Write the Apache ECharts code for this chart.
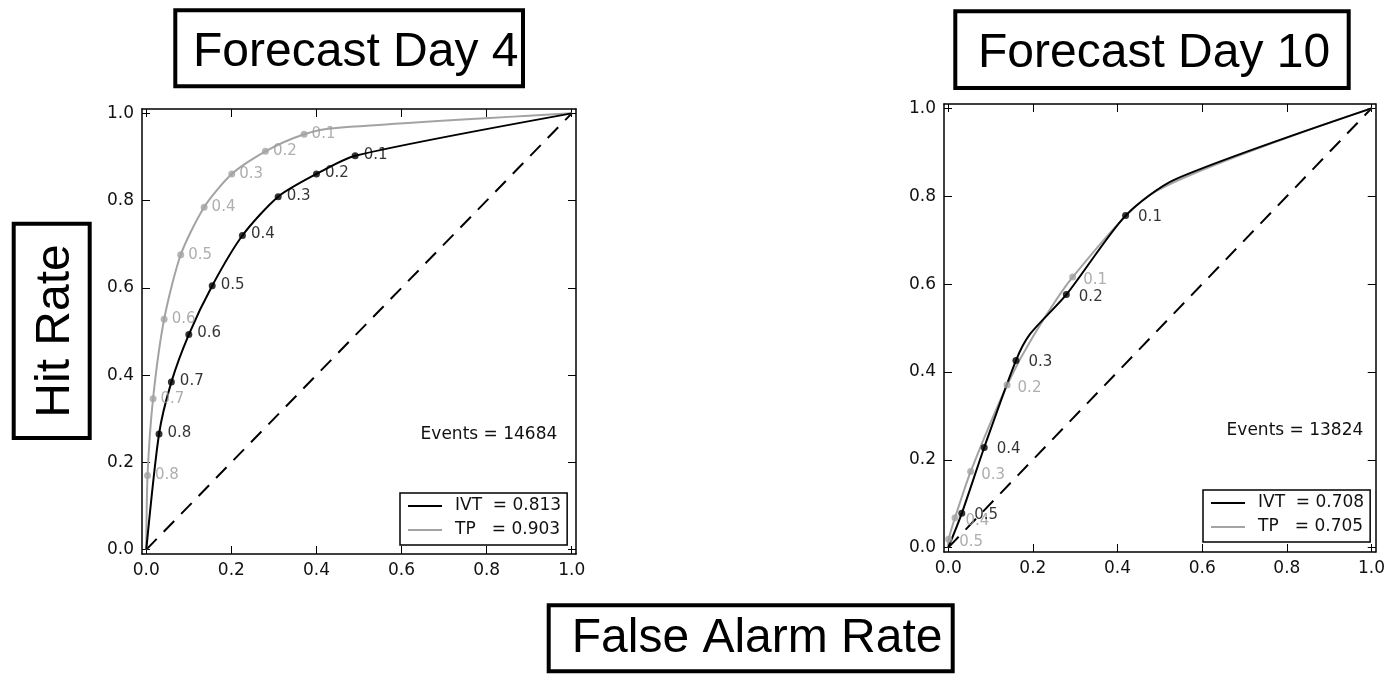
<!DOCTYPE html>
<html><head><meta charset="utf-8">
<script src="https://cdn.jsdelivr.net/npm/echarts@6/dist/echarts.min.js"></script>
<style>html,body{margin:0;padding:0;background:#fff}#c{width:1388px;height:680px}</style>
</head><body><div id="c"></div>
<script>
// ---------- data ----------
const axisTicks = [0, 0.2, 0.4, 0.6, 0.8, 1.0];

// Forecast Day 4 (thresholds 0.1 .. 0.8)
const d4Thresholds = ['0.1','0.2','0.3','0.4','0.5','0.6','0.7','0.8'];
const d4IvtFar = [0.491, 0.400, 0.310, 0.226, 0.155, 0.100, 0.059, 0.030];
const d4IvtHit = [0.903, 0.861, 0.809, 0.720, 0.605, 0.493, 0.384, 0.265];
const d4TpFar  = [0.371, 0.280, 0.201, 0.136, 0.081, 0.042, 0.016, 0.003];
const d4TpHit  = [0.952, 0.913, 0.861, 0.785, 0.676, 0.528, 0.346, 0.170];
// unlabeled curve vertices (end points and bends)
const d4IvtExtraFar = [0, 1];
const d4IvtExtraHit = [0, 1];
const d4TpExtraFar  = [0, 0.44, 1];
const d4TpExtraHit  = [0, 0.966, 1];
const d4Auc = ['0.813', '0.903'];
const d4Events = 14684;

// Forecast Day 10 (thresholds 0.1 .. 0.5)
const d10Thresholds = ['0.1','0.2','0.3','0.4','0.5'];
const d10IvtFar = [0.419, 0.279, 0.160, 0.085, 0.032];
const d10IvtHit = [0.756, 0.576, 0.426, 0.228, 0.078];
const d10TpFar  = [0.294, 0.139, 0.053, 0.016, 0.001];
const d10TpHit  = [0.616, 0.370, 0.173, 0.068, 0.019];
const d10IvtExtraFar = [0, 0.194, 0.535, 1];
const d10IvtExtraHit = [0, 0.487, 0.838, 1];
const d10TpExtraFar  = [0, 0.200, 0.488, 1];
const d10TpExtraHit  = [0, 0.480, 0.810, 1];
const d10Auc = ['0.708', '0.705'];
const d10Events = 13824;

const models = ['IVT', 'TP'];
const titles = ['Forecast Day 4', 'Forecast Day 10'];
const yTitle = 'Hit Rate';
const xTitle = 'False Alarm Rate';

// ---------- helpers ----------
const BLACK = '#000000', GREY = '#a3a3a3', GREY_TXT = '#9a9a9a';
const TICK_FONT = 'DejaVu Sans';
const BOX_FONT = '"Liberation Sans", Arial, sans-serif';

function curve(far, hit, exFar, exHit) {
  const pts = far.map((x, i) => [x, hit[i]]).concat(exFar.map((x, i) => [x, exHit[i]]));
  pts.sort((a, b) => a[0] - b[0] || a[1] - b[1]);
  return pts;
}
function points(far, hit, labels) {
  return far.map((x, i) => [x, hit[i], labels[i]]);
}

const grids = [
  { left: 142, top: 109, width: 434, height: 445 },
  { left: 944, top: 104, width: 435, height: 448 }
];

function mainAxis(pos, gi, showLabel) {
  return {
    type: 'value', gridIndex: gi, position: pos, min: -0.01, max: 1.01,
    axisLine: { show: true, onZero: false, lineStyle: { color: BLACK, width: 1.5 } },
    axisTick: { show: true, inside: true, length: 8, customValues: axisTicks, lineStyle: { color: BLACK, width: 1 } },
    axisLabel: { show: showLabel, customValues: axisTicks, formatter: v => v.toFixed(1),
      fontFamily: TICK_FONT, fontSize: 17, color: '#111', margin: 8 },
    splitLine: { show: false }
  };
}

const xAxes = [mainAxis('bottom', 0, true), mainAxis('bottom', 1, true), mainAxis('top', 0, false), mainAxis('top', 1, false)];
const yAxes = [mainAxis('left', 0, true), mainAxis('left', 1, true), mainAxis('right', 0, false), mainAxis('right', 1, false)];

const legendText = {};
function lineSeries(name, gi, data, color) {
  return { type: 'line', name, xAxisIndex: gi, yAxisIndex: gi, data, smooth: 0.25,
    showSymbol: false, symbol: 'none', lineStyle: { color, width: 2 }, itemStyle: { color }, z: 3, silent: true };
}
function pointSeries(gi, data, color, txtColor, dist, off) {
  return { type: 'scatter', xAxisIndex: gi, yAxisIndex: gi, data, symbolSize: 7,
    itemStyle: { color }, z: 4, silent: true,
    label: { show: true, position: 'right', distance: dist, offset: off, formatter: p => p.value[2],
      fontFamily: TICK_FONT, fontSize: 15, color: txtColor } };
}
function diag(gi) {
  return { type: 'line', xAxisIndex: gi, yAxisIndex: gi, data: [[0, 0], [1, 1]], symbol: 'none', silent: true,
    lineStyle: { color: BLACK, width: 2, type: [15, 10] }, z: 2 };
}

const series = [];
const legends = [];
const sets = [
  { gi: 0, th: d4Thresholds, ivt: [d4IvtFar, d4IvtHit, d4IvtExtraFar, d4IvtExtraHit],
    tp: [d4TpFar, d4TpHit, d4TpExtraFar, d4TpExtraHit], auc: d4Auc, tag: '4',
    ivtLab: [5, [0, -1]], tpLab: [4, [0, 0]], legendPos: { left: 400, top: 493 } },
  { gi: 1, th: d10Thresholds, ivt: [d10IvtFar, d10IvtHit, d10IvtExtraFar, d10IvtExtraHit],
    tp: [d10TpFar, d10TpHit, d10TpExtraFar, d10TpExtraHit], auc: d10Auc, tag: '10',
    ivtLab: [9, [0, 2]], tpLab: [7, [0, 3]], legendPos: { left: 1203, top: 490 } }
];
sets.forEach(s => {
  const nIvt = models[0] + s.tag, nTp = models[1] + s.tag;
  legendText[nIvt] = models[0].padEnd(5, ' ') + '= ' + s.auc[0];
  legendText[nTp] = models[1].padEnd(5, ' ') + '= ' + s.auc[1];
  series.push(diag(s.gi));
  series.push(lineSeries(nTp, s.gi, curve(...s.tp), GREY));
  series.push(lineSeries(nIvt, s.gi, curve(...s.ivt), BLACK));
  series.push(pointSeries(s.gi, points(s.tp[0], s.tp[1], s.th), GREY, GREY_TXT, s.tpLab[0], s.tpLab[1]));
  series.push(pointSeries(s.gi, points(s.ivt[0], s.ivt[1], s.th), BLACK, BLACK, s.ivtLab[0], s.ivtLab[1]));
  legends.push({
    data: [nIvt, nTp], orient: 'vertical', left: s.legendPos.left, top: s.legendPos.top,
    icon: 'rect', itemWidth: 34, itemHeight: 2, itemGap: 6,
    padding: [4, 6, 6, 8], borderColor: BLACK, borderWidth: 1.5, backgroundColor: '#fff',
    formatter: n => legendText[n], selectedMode: false,
    textStyle: { fontFamily: TICK_FONT, fontSize: 17, color: '#111', lineHeight: 18, padding: [0, 0, 0, 8] }
  });
});

function box(x, y, w, h) {
  return { type: 'rect', shape: { x, y, width: w, height: h }, style: { fill: '#fff', stroke: BLACK, lineWidth: 4 }, z: 10 };
}
function boxText(text, x, y, align, rot) {
  return { type: 'text', x, y, rotation: rot || 0, z: 11,
    style: { text, font: '48px ' + BOX_FONT, fill: BLACK, textAlign: align, textVerticalAlign: 'middle' } };
}

const graphics = [
  box(175.3, 10.3, 347.7, 76), boxText(titles[0], 193, 53, 'left'),
  box(955.3, 11.3, 393.4, 76.7), boxText(titles[1], 978, 54, 'left'),
  box(13.7, 223.7, 76, 214.3), boxText(yTitle, 55.5, 331, 'center', Math.PI / 2),
  box(548.7, 605.3, 404, 66), boxText(xTitle, 571.7, 639, 'left'),
  { type: 'text', x: 557.3, y: 435, z: 11, style: { text: 'Events = ' + d4Events, font: '17px ' + TICK_FONT, fill: '#111', textAlign: 'right', textVerticalAlign: 'middle' } },
  { type: 'text', x: 1363.3, y: 431, z: 11, style: { text: 'Events = ' + d10Events, font: '17px ' + TICK_FONT, fill: '#111', textAlign: 'right', textVerticalAlign: 'middle' } }
];

const chart = echarts.init(document.getElementById('c'), null, { renderer: 'canvas' });
chart.setOption({
  animation: false,
  backgroundColor: '#fff',
  grid: grids,
  xAxis: xAxes,
  yAxis: yAxes,
  legend: legends,
  series,
  graphic: graphics
});
</script></body></html>
